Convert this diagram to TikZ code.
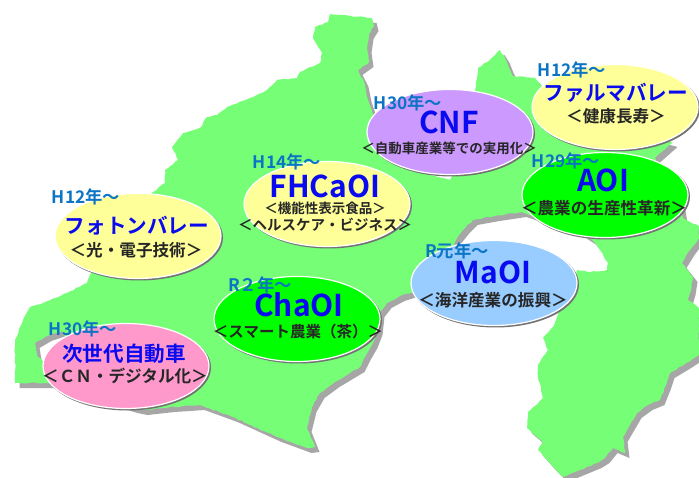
\documentclass[tikz,border=0pt]{standalone}
\usepackage{fontspec}
\setmainfont{Noto Sans CJK JP}[BoldFont={Noto Sans CJK JP Bold}]
\usetikzlibrary{shapes.geometric,decorations.pathmorphing}
\definecolor{landgreen}{HTML}{76FF76}
\definecolor{shadowgrey}{HTML}{A6A6A6}
\definecolor{titleblue}{HTML}{0A0AF0}
\definecolor{yearblue}{HTML}{0B74C4}
\definecolor{ovyellow}{HTML}{FFFF99}
\definecolor{ovgreen}{HTML}{00FF00}
\definecolor{ovpurple}{HTML}{CC99FF}
\definecolor{ovpink}{HTML}{FF99CC}
\definecolor{ovblue}{HTML}{99CCFF}
\def\landpath{
 (330,14) -- (350,16) -- (372,18) -- (374,26) -- (369,34) -- (367,48) -- (369,62) -- (358,70) -- (364,82) -- (367,97)
 -- (385,150) -- (427,174) -- (450,180) -- (465,140) -- (475,90) -- (477,78) -- (478,68) -- (490,60) -- (500,50) -- (505,58) -- (509,68) -- (513,76) -- (535,78)
 -- (560,110) -- (673,142) -- (664,150) -- (655,158) -- (680,200) -- (683,218) -- (690,222) -- (699,226) -- (699,238)
 -- (690,250) -- (682,263) -- (693,277) -- (691,290) -- (688,300) -- (699,308) -- (699,355) -- (685,364) -- (670,373) -- (666,385) -- (660,400) -- (648,405) -- (637,413) -- (630,425) -- (623,437) -- (625,453) -- (613,448) -- (605,458) -- (597,463) -- (580,470) -- (563,477) -- (553,467) -- (545,458) -- (538,450) -- (543,442) -- (527,428) -- (528,412) -- (543,398) -- (538,377) -- (538,365) -- (548,350) -- (543,338) -- (553,327) -- (557,317)
 -- (570,290) -- (577,270) -- (590,272) -- (607,270) -- (608,263) -- (600,250) -- (592,240) -- (580,232) -- (522,212) -- (495,216) -- (473,220) -- (465,228) -- (457,238)
 -- (440,270) -- (413,292) -- (400,296) -- (387,303) -- (380,312) -- (378,330) -- (373,343) -- (366,355) -- (360,367) -- (350,373) -- (335,382) -- (320,393) -- (312,407) -- (307,427) -- (315,447) -- (307,448) -- (277,437) -- (233,417) -- (200,405) -- (170,407) -- (143,410) -- (133,408) -- (90,395) -- (50,383) -- (15,383) -- (15,340) -- (23,320) -- (30,307) -- (43,303) -- (55,298) -- (67,293) -- (87,283) -- (90,275)
 -- (120,230) -- (153,192) -- (165,183) -- (165,170) -- (178,160) -- (172,147) -- (183,133) -- (200,128) -- (207,117) -- (217,115) -- (227,107) -- (250,98) -- (267,90) -- (277,80) -- (297,78) -- (300,72) -- (320,63) -- (322,53) -- (313,38) -- (315,27) -- (328,22) -- cycle
 (35,343) -- (47,336) -- (62,331) -- (68,340) -- (60,360) -- (43,362) -- (37,355) -- cycle
}
\tikzset{
 ovalshape/.style={ellipse,draw=white,line width=1.2pt,inner sep=0pt,minimum width=166pt,minimum height=85pt},
 ovalshadow/.style={fill=black!55},
 title/.style={font=\bfseries\fontsize{#1}{#1}\selectfont,text=titleblue,inner sep=0pt},
 sub/.style={font=\bfseries\fontsize{#1}{#1}\selectfont,text=black!85,inner sep=0pt},
 year/.style={font=\bfseries\fontsize{17.3}{17.3}\selectfont,text=yearblue,inner sep=0pt},
 rough/.style={decorate,decoration={random steps,segment length=3.5pt,amplitude=0.6pt}}
}
\newcommand{\myoval}[4]{%
 \fill[ovalshadow] (#2+1.5,#3+1.5) ellipse [x radius=83.5,y radius=43];
 \node[ovalshape,fill=#4] (#1) at (#2,#3) {};
}
\begin{document}
\begin{tikzpicture}[x=1pt,y=-1pt]
\useasboundingbox (0,0) rectangle (699,478);
\fill[white] (0,0) rectangle (699,478);
\begin{scope}
\clip (0,0) rectangle (699,478);
\fill[shadowgrey,even odd rule,xshift=4.5pt,yshift=-5pt] \landpath;
\fill[landgreen,even odd rule,rough] \landpath;
\end{scope}
\myoval{cnfo}{450}{132}{ovpurple}
\myoval{farmao}{615}{107}{ovyellow}
\myoval{aoio}{605}{195}{ovgreen}
\myoval{fhcao}{327}{204}{ovyellow}
\myoval{photo}{138}{236}{ovyellow}
\myoval{chao}{297}{319}{ovgreen}
\myoval{nexto}{126}{366}{ovpink}
\myoval{maoio}{494}{283}{ovblue}
\node[title=30] (t1) at (449,122) {CNF};
\node[sub=13.5] (s1) at (449,148) {＜自動車産業等での実用化＞};
\node[year] (y1) at (408,103) {H30年～};
\node[title=20.6] (t2) at (616,93) {ファルマバレー};
\node[sub=16.6] (s2) at (616,116) {＜健康長寿＞};
\node[year] (y2) at (572,70) {H12年～};
\node[title=30] (t3) at (603,180) {AOI};
\node[sub=16.6] (s3) at (604,208) {＜農業の生産性革新＞};
\node[year] (y3) at (566,161) {H29年～};
\node[title=30] (t4) at (325,186) {FHCaOI};
\node[sub=13.5] (s4a) at (325,208) {＜機能性表示食品＞};
\node[sub=14.5] (s4b) at (325,225) {＜ヘルスケア・ビジネス＞};
\node[year] (y4) at (287,162) {H14年～};
\node[title=20.6] (t5) at (137,226) {フォトンバレー};
\node[sub=16.6] (s5) at (136,250) {＜光・電子技術＞};
\node[year] (y5) at (86,197) {H12年～};
\node[title=30] (t6) at (299,305) {ChaOI};
\node[sub=15.5] (s6) at (298,332) {＜スマート農業（茶）＞};
\node[year] (y6) at (260,285) {R２年～};
\node[title=20.6] (t7) at (124,354) {次世代自動車};
\node[sub=16.6] (s7) at (125,376) {＜ＣＮ・デジタル化＞};
\node[year] (y7) at (83,329) {H30年～};
\node[title=30] (t8) at (493,272) {MaOI};
\node[sub=16.6] (s8) at (493,300) {＜海洋産業の振興＞};
\node[year] (y8) at (457,251) {R元年～};
\end{tikzpicture}
\end{document}
